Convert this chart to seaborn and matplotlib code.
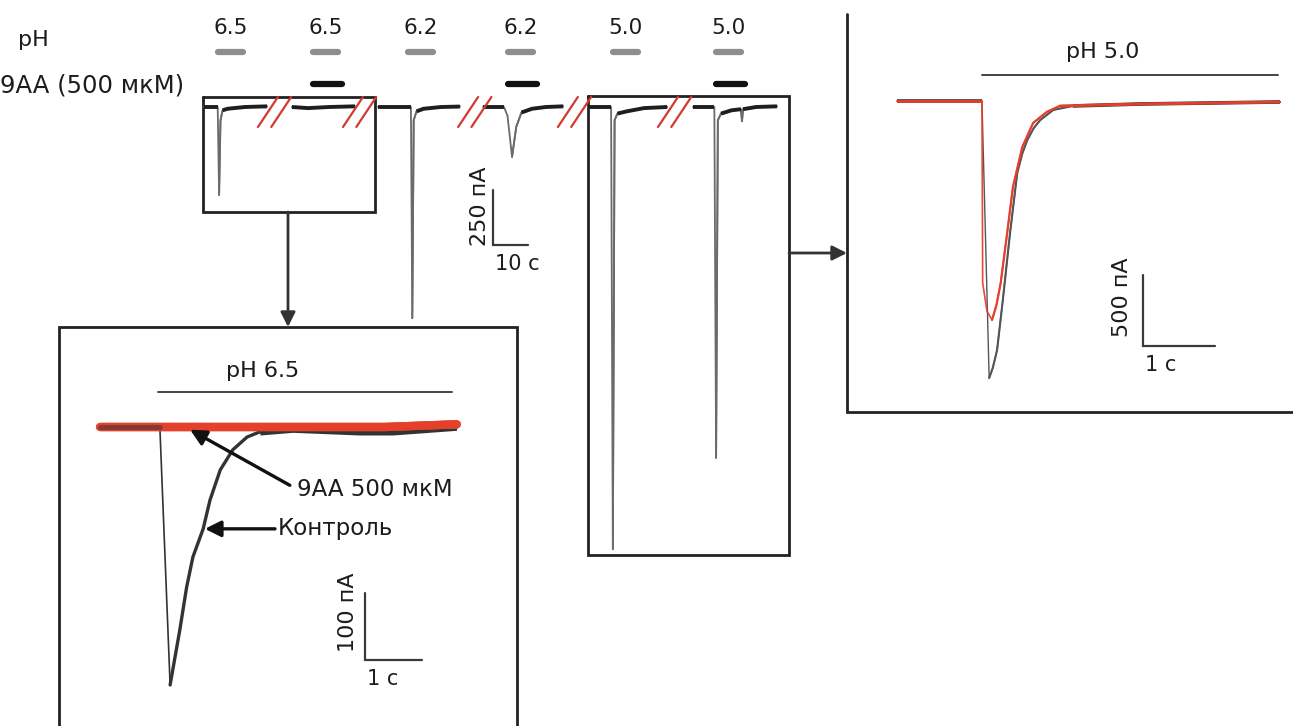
import numpy as np
import matplotlib
matplotlib.use("Agg")
import matplotlib.pyplot as plt
from matplotlib.transforms import Affine2D, blended_transform_factory
import seaborn as sns

W, H = 1293, 726

# ---- values ----
ph_values = ["6.5", "6.5", "6.2", "6.2", "5.0", "5.0"]
aa_applied = [False, True, False, True, False, True]
ph_onset_s = [4.3, 31.4, 58.6, 87.1, 117.1, 146.6]
ph_dur_s = 7.2
aa_dur_s = 8.2

# main record: six sweeps, display time (s) and current (pA)
sweep_t = [
    [0.3, 4.2, 4.6, 5.0, 5.6, 7.0, 12.0, 18.3],
    [25.4, 30.0, 36.0, 43.4],
    [50.0, 55.0, 59.4, 59.8, 60.2, 61.0, 63.0, 68.0, 73.4],
    [80.0, 86.0, 87.0, 88.3, 89.5, 91.0, 94.0, 98.0, 102.9],
    [110.0, 116.6, 117.1, 117.6, 118.4, 121.0, 126.0, 132.6],
    [140.0, 146.1, 146.6, 147.1, 148.0, 151.0, 153.7, 154.0, 154.3, 158.0, 164.0],
]
sweep_i = [
    [0, 0, -400, -60, -15, -8, 0, 3],
    [0, -5, 0, 3],
    [0, 0, 0, -960, -60, -20, -8, 0, 2],
    [0, 0, -40, -227, -90, -25, -8, 0, 3],
    [0, 0, -2010, -60, -30, -20, -5, 0],
    [0, 0, -1595, -60, -30, -15, -10, -65, -10, 0, 3],
]
break_t = [15.7, 40.0, 72.9, 101.4, 130.0]

# inset pH 6.5
ctrl65_t = [0.0, 0.5, 1.05, 1.23, 1.40, 1.52, 1.63, 1.81, 1.93, 2.11, 2.33, 2.58, 2.81, 3.39, 4.56, 5.14, 6.26]
ctrl65_i = [0, 0, 0, -385, -303, -239, -194, -152, -109, -64, -34, -15, -7, -3, -7, -7, 0]
aa65_t = [0.0, 1.05, 3.0, 5.0, 6.26]
aa65_i = [0, 0, 0, 0, 4]

# inset pH 5.0
ctrl50_t = [0.0, 1.18, 1.28, 1.33, 1.39, 1.47, 1.57, 1.67, 1.74, 1.81, 1.90, 1.99, 2.17, 2.44, 3.38, 5.32]
ctrl50_i = [0, 0, -1951, -1880, -1754, -1401, -930, -507, -370, -275, -190, -134, -63, -35, -21, -7]
aa50_t = [0.0, 1.18, 1.19, 1.25, 1.32, 1.38, 1.44, 1.53, 1.61, 1.74, 1.89, 2.08, 2.26, 3.38, 5.32]
aa50_i = [0, 0, -1282, -1480, -1542, -1440, -1282, -930, -606, -324, -155, -77, -35, -21, -7]

scale_main = (10, 250)
scale_65 = (1, 100)
scale_50 = (1, 500)

RED = "#e5402b"
DARK = "#1e1e1e"

sns.set_style("white")
plt.rcParams["font.family"] = ["DejaVu Sans"]
plt.rcParams["font.size"] = 15
plt.rcParams["text.color"] = "#1c1c1c"

fig = plt.figure(figsize=(W / 100, H / 100), dpi=100)
PX = Affine2D().scale(1 / W, -1 / H).translate(0, 1) + fig.transFigure

ov = fig.add_axes([0, 0, 1, 1])
ov.set_xlim(0, W)
ov.set_ylim(H, 0)
ov.axis("off")


def trace_axes(box, origin, px_s, px_pa):
    x0, y0, x1, y1 = box
    ox, oy = origin
    ax = fig.add_axes([x0 / W, 1 - y1 / H, (x1 - x0) / W, (y1 - y0) / H])
    ax.set_xlim((x0 - ox) / px_s, (x1 - ox) / px_s)
    ax.set_ylim(-(y1 - oy) / px_pa, (oy - y0) / px_pa)
    ax.set_facecolor("none")
    ax.axis("off")
    return ax


def quiet_runs(i, tol):
    quiet = np.abs(i) <= tol
    runs, start = [], None
    for n in range(len(i) + 1):
        if n < len(i) and quiet[n]:
            start = n if start is None else start
        else:
            if start is not None and n - start >= 2:
                runs.append((start, n))
            start = None
    return runs


def draw_trace(ax, t, i, color, thin, thick, base, tol, base_color=None, alpha=1.0):
    t = np.asarray(t, float)
    i = np.asarray(i, float)
    kw = dict(ax=ax, sort=False, estimator=None, alpha=alpha)
    sns.lineplot(x=t, y=i, lw=thin, color=color, **kw)
    k = int(np.argmin(i))
    sns.lineplot(x=t[k:], y=i[k:], lw=thick, color=color, **kw)
    for a, b in quiet_runs(i, tol):
        sns.lineplot(x=t[a:b], y=i[a:b], lw=base, color=base_color or color,
                     solid_capstyle="butt", **kw)


def scale_bar(ax, corner, size, ylab, xlab, ylab_dx, ylab_dy):
    cx, cy = corner
    sx, sy = size
    ax.plot([cx, cx, cx + sx], [cy + sy, cy, cy], color="#3a3a3a", lw=1.6,
            solid_joinstyle="miter", clip_on=False)
    ax.annotate(ylab, (cx, cy), xytext=(ylab_dx, ylab_dy), textcoords="offset pixels",
                rotation=90, ha="center", va="bottom", fontsize=16)
    ax.annotate(xlab, (cx, cy), xytext=(2, -9), textcoords="offset pixels",
                ha="left", va="top", fontsize=15)


# ---- main record ----
ax_m = trace_axes((195, 10, 800, 600), (203, 107), 3.5, 0.22)
mix = blended_transform_factory(ax_m.transData, PX)
for t, i in zip(sweep_t, sweep_i):
    draw_trace(ax_m, t, i, "#6a6a6a", 1.3, 1.3, 2.8, 30, base_color=DARK)

for bt in break_t:
    for off in (0.0, 3.8):
        ax_m.plot([bt + off, bt + off + 5.7], [127, 97], color="#d23a32", lw=1.6,
                  transform=mix, clip_on=False)

for on, lab, aa in zip(ph_onset_s, ph_values, aa_applied):
    ax_m.plot([on, on + ph_dur_s], [52, 52], color="#8e8e8e", lw=4.5,
              solid_capstyle="round", transform=mix, clip_on=False)
    ax_m.text(on + ph_dur_s / 2, 28, lab, transform=mix, ha="center", va="center",
              fontsize=15.5)
    if aa:
        ax_m.plot([on, on + aa_dur_s], [84, 84], color="#111", lw=4.5,
                  solid_capstyle="round", transform=mix, clip_on=False)

scale_bar(ax_m, (82.9, -627), scale_main, "250 пА", "10 с", -13, -1)

# ---- inset pH 6.5 ----
ax_a = trace_axes((59, 327, 517, 726), (100, 427), 57, 0.67)
mix_a = blended_transform_factory(ax_a.transData, PX)
draw_trace(ax_a, ctrl65_t, ctrl65_i, "#333333", 1.2, 2.4, 5.5, 12)
draw_trace(ax_a, aa65_t, aa65_i, RED, 6.0, 6.0, 6.0, 12, alpha=0.85)
# dark record shows through before the pH jump
sns.lineplot(x=ctrl65_t[:3], y=ctrl65_i[:3], ax=ax_a, sort=False, estimator=None,
             color="#3a3a3a", lw=3.5, alpha=0.6)
ax_a.plot([1.02, 6.18], [392, 392], color="#444", lw=1.4, transform=mix_a)
ax_a.text(2.86, 371, "pH 6.5", transform=mix_a, ha="center", va="center", fontsize=16)
arrow = dict(arrowstyle="-|>", lw=2.4, color="#111", mutation_scale=24,
             shrinkA=0, shrinkB=0)
ax_a.annotate("", xy=(1.58, -4), xytext=(3.33, -87), arrowprops=arrow)
ax_a.text(3.46, -94, "9AA 500 мкМ", ha="left", va="center", fontsize=16.5)
ax_a.annotate("", xy=(1.84, -152), xytext=(3.07, -152), arrowprops=arrow)
ax_a.text(3.11, -152, "Контроль", ha="left", va="center", fontsize=16.5)
scale_bar(ax_a, (4.65, -348), scale_65, "100 пА", "1 с", -17, 8)

# ---- inset pH 5.0 ----
ax_b = trace_axes((847, 14, 1293, 412), (897, 101), 72, 0.142)
mix_b = blended_transform_factory(ax_b.transData, PX)
draw_trace(ax_b, ctrl50_t, ctrl50_i, "#555555", 1.0, 1.5, 2.6, 40, base_color="#333")
draw_trace(ax_b, aa50_t, aa50_i, RED, 1.2, 1.6, 2.0, 40, alpha=0.95)
ax_b.plot([1.18, 5.29], [75, 75], color="#444", lw=1.4, transform=mix_b)
ax_b.text(2.86, 52, "pH 5.0", transform=mix_b, ha="center", va="center", fontsize=16)
scale_bar(ax_b, (3.42, -1725), scale_50, "500 пА", "1 с", -21, 9)

# ---- frames, arrows, row labels ----
box_kw = dict(color="#222", lw=2.0, solid_joinstyle="miter")
ov.plot([203, 375, 375, 203, 203], [97, 97, 212, 212, 97], **box_kw)
ov.plot([588, 789, 789, 588, 588], [96, 96, 555, 555, 96], **box_kw)
ov.plot([59, 59, 517, 517], [730, 327, 327, 730], **box_kw)
ov.plot([847, 847, 1296], [14, 412, 412], **box_kw)
link = dict(arrowstyle="-|>", lw=2.0, color="#333", mutation_scale=22,
            shrinkA=0, shrinkB=0)
ov.annotate("", xy=(288, 327), xytext=(288, 212), arrowprops=link)
ov.annotate("", xy=(847, 253), xytext=(789, 253), arrowprops=link)
ov.text(18, 40, "pH", ha="left", va="center", fontsize=16)
ov.text(0, 86, "9AA (500 мкМ)", ha="left", va="center", fontsize=17.5)

fig.savefig("out.png", dpi=100)
